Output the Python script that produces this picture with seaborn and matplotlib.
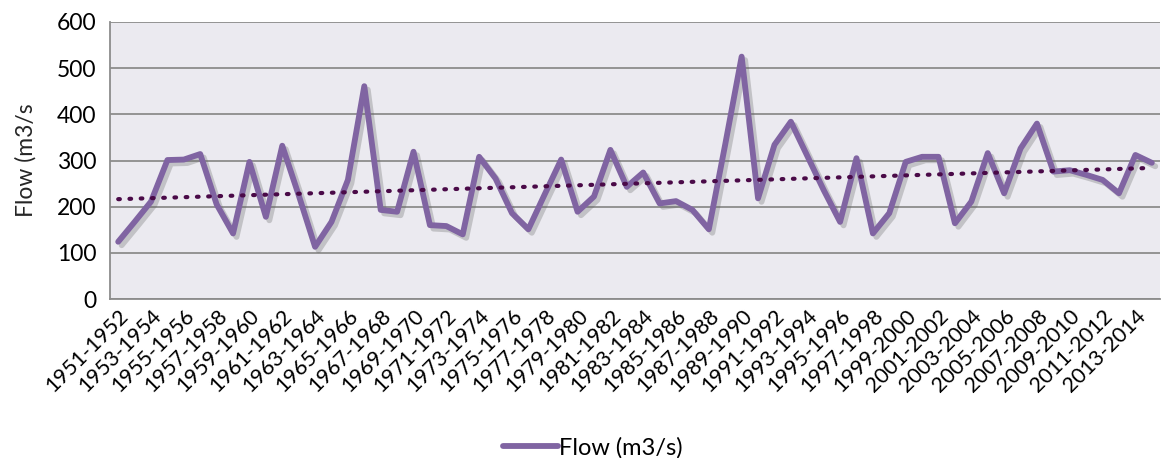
import numpy as np
import pandas as pd
import matplotlib
matplotlib.use("Agg")
import matplotlib.pyplot as plt
import matplotlib.patheffects as pe
import seaborn as sns

# Water years and annual mean flow
start_years = list(range(1951, 2015))
seasons = [f"{y}-{y + 1}" for y in start_years]
flow = [124, 167, 211, 301, 302, 314, 205, 142, 297, 178,
        332, 225, 113, 167, 258, 461, 193, 189, 319, 160,
        158, 140, 308, 261, 186, 151, 227, 302, 189, 222,
        323, 243, 274, 207, 212, 193, 151, 335, 525, 218,
        334, 384, 310, 236, 167, 305, 142, 186, 297, 308,
        308, 164, 211, 316, 229, 326, 380, 276, 279, 269,
        258, 229, 312, 295]
y_ticks = [0, 100, 200, 300, 400, 500, 600]

df = pd.DataFrame({"idx": np.arange(len(seasons)), "season": seasons, "flow": flow})

sns.set_theme(style="white")
plt.rcParams["font.family"] = ["Lato", "DejaVu Sans"]
plt.rcParams["text.color"] = "black"
plt.rcParams["xtick.color"] = "black"
plt.rcParams["ytick.color"] = "black"

line_color = "#8064A2"
trend_color = "#4A0A48"
grid_color = "#8C8C8C"

fig = plt.figure(figsize=(11.62, 4.58), dpi=100)
ax = fig.add_axes([110 / 1162, 1 - 299 / 458, 1050 / 1162, 277 / 458])
ax.set_facecolor("#EBEAF0")

sns.lineplot(data=df, x="idx", y="flow", ax=ax, color=line_color, linewidth=4.2,
             label="Flow (m3/s)", zorder=3,
             path_effects=[pe.SimpleLineShadow(offset=(2.5, -2.5), shadow_color="#666666", alpha=0.3),
                           pe.Normal()])
sns.regplot(data=df, x="idx", y="flow", ax=ax, scatter=False, ci=None, truncate=True,
            line_kws=dict(color=trend_color, linewidth=3.0, linestyle=(0, (0.4, 2.3)),
                          dash_capstyle="round", zorder=4))

ax.set_xlim(-0.5, len(seasons) - 0.5)
ax.set_ylim(0, 600)
ax.set_yticks(y_ticks)
ax.yaxis.grid(True, color=grid_color, linewidth=1.3)
ax.set_axisbelow(True)

# Tick marks on category boundaries, labels on every other category
ax.set_xticks(np.arange(-0.5, len(seasons) + 0.5, 1.0))
ax.set_xticklabels([])
ax.set_xticks(np.arange(0, len(seasons), 2), minor=True)
ax.set_xticklabels(seasons[::2], minor=True, rotation=45, ha="right",
                   rotation_mode="anchor", fontsize=15.5)
ax.tick_params(axis="x", which="major", length=7, width=1.2, color=grid_color, direction="out")
ax.tick_params(axis="x", which="minor", length=0, pad=5)
ax.tick_params(axis="y", length=6, width=1.2, color=grid_color, labelsize=16.5, pad=4)

for side in ("top", "right"):
    ax.spines[side].set_visible(False)
for side in ("left", "bottom"):
    ax.spines[side].set_color(grid_color)
    ax.spines[side].set_linewidth(1.3)

ax.set_xlabel("")
ax.set_ylabel("Flow (m3/s", fontsize=16.5, labelpad=14)

leg = ax.legend(loc="upper center", bbox_to_anchor=(0.46, -0.42), frameon=False,
                fontsize=17, handlelength=2.3, handletextpad=0.05)
for h in leg.get_lines():
    h.set_linewidth(4.2)
    h.set_path_effects([])

fig.savefig("out.png", dpi=100)
